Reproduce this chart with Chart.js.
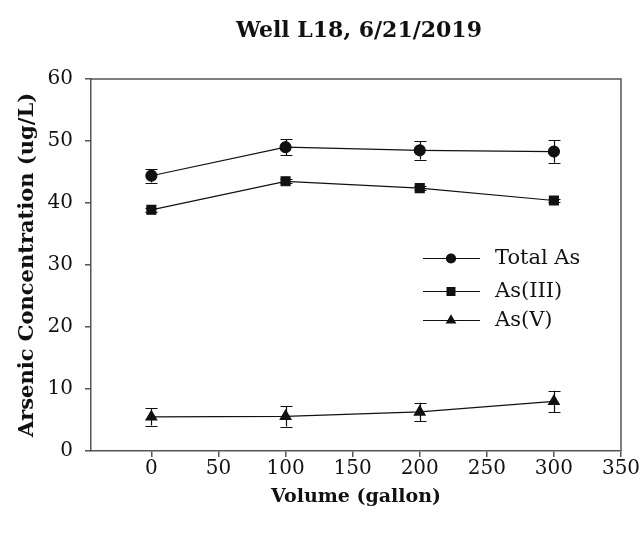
<!DOCTYPE html>
<html>
<head>
<meta charset="utf-8">
<script src="https://cdn.jsdelivr.net/npm/chart.js@4.4.1/dist/chart.umd.min.js"></script>
<style>
  html, body { margin: 0; padding: 0; background: #fff; }
  #wrap { width: 644px; height: 538px; }
</style>
</head>
<body>
<div id="wrap"><canvas id="c" width="644" height="538"></canvas></div>
<script>
// ---- data ----
const volumes = [0, 100, 200, 300];
const totalAs = [44.4, 49.0, 48.5, 48.3];
const totalAsErr = [1.1, 1.3, 1.5, 1.8];
const as3 = [38.9, 43.5, 42.4, 40.4];
const as3Err = [0.3, 0.3, 0.3, 0.3];
const as5 = [5.5, 5.6, 6.3, 8.0];
const as5Err = [1.4, 1.65, 1.5, 1.7];
const xTickValues = [0, 50, 100, 150, 200, 250, 300, 350];
const seriesNames = ['Total As', 'As(III)', 'As(V)'];
const titleText = 'Well L18, 6/21/2019';
const xTitle = 'Volume (gallon)';
const yTitle = 'Arsenic Concentration (ug/L)';

const serif = "'DejaVu Serif', serif";
const axisColor = '#555';
const lineColor = '#111';

function pts(vals) { return volumes.map((v, i) => ({ x: v, y: vals[i] })); }

const styles = ['circle', 'rect', 'triangle'];
const radii = [5.5, 6.3, 6.2];
const legendRadii = [4.5, 5.5, 5];
const errs = [totalAsErr, as3Err, as5Err];

const errorBarPlugin = {
  id: 'errorBars',
  beforeDatasetsDraw(chart) {
    const ctx = chart.ctx;
    const ys = chart.scales.y;
    ctx.save();
    ctx.strokeStyle = lineColor;
    ctx.lineWidth = 1.2;
    chart.data.datasets.forEach((ds, di) => {
      const meta = chart.getDatasetMeta(di);
      const e = errs[di];
      meta.data.forEach((pt, i) => {
        const v = ds.data[i].y;
        const y1 = ys.getPixelForValue(v + e[i]);
        const y2 = ys.getPixelForValue(v - e[i]);
        const x = Math.round(pt.x) + 0.5;
        ctx.beginPath();
        ctx.moveTo(x, y1); ctx.lineTo(x, y2);
        ctx.moveTo(x - 6, Math.round(y1) + 0.5); ctx.lineTo(x + 6, Math.round(y1) + 0.5);
        ctx.moveTo(x - 6, Math.round(y2) + 0.5); ctx.lineTo(x + 6, Math.round(y2) + 0.5);
        ctx.stroke();
      });
    });
    ctx.restore();
  }
};

const framePlugin = {
  id: 'frame',
  afterDraw(chart) {
    const { ctx, chartArea: a } = chart;
    ctx.save();
    ctx.strokeStyle = axisColor;
    ctx.lineWidth = 1.5;
    ctx.beginPath();
    ctx.moveTo(a.left, a.top); ctx.lineTo(a.right, a.top); ctx.lineTo(a.right, a.bottom);
    ctx.stroke();
    // title
    ctx.fillStyle = '#111';
    ctx.font = "bold 22px " + serif;
    ctx.textAlign = 'center';
    ctx.textBaseline = 'middle';
    ctx.fillText(titleText, (a.left + a.right) / 2 + 3, 31);
    // legend
    const lx1 = a.left + 332, lx2 = a.left + 389, mx = a.left + 360;
    const rows = [a.top + 179, a.top + 212, a.top + 241];
    ctx.font = "21px " + serif;
    ctx.textAlign = 'left';
    chart.data.datasets.forEach((ds, di) => {
      const y = rows[di];
      ctx.strokeStyle = lineColor;
      ctx.lineWidth = 1.2;
      ctx.beginPath();
      ctx.moveTo(lx1, y + 0.5); ctx.lineTo(lx2, y + 0.5);
      ctx.stroke();
      Chart.helpers.drawPoint(ctx, { pointStyle: styles[di], radius: legendRadii[di], borderWidth: 1, rotation: 0 }, mx, y + 0.5);
      ctx.fillStyle = '#111';
      ctx.fill();
      ctx.fillText(ds.label, a.left + 404, y + 1);
    });
    ctx.restore();
  }
};

const datasets = [totalAs, as3, as5].map((vals, i) => ({
  label: seriesNames[i],
  data: pts(vals),
  borderColor: lineColor,
  backgroundColor: lineColor,
  borderWidth: 1.2,
  pointStyle: styles[i],
  pointRadius: radii[i],
  pointBackgroundColor: lineColor,
  pointBorderColor: lineColor,
  tension: 0,
  fill: false
}));

new Chart(document.getElementById('c'), {
  type: 'scatter',
  data: { datasets },
  options: {
    responsive: false,
    animation: false,
    showLine: true,
    layout: { padding: { left: 0, right: 23, top: 79, bottom: 0 } },
    plugins: { legend: { display: false }, title: { display: false }, tooltip: { enabled: false } },
    scales: {
      x: {
        type: 'linear', min: -45, max: 350,
        afterBuildTicks(s) { s.ticks = xTickValues.map(v => ({ value: v })); },
        afterFit(s) { s.height = 87; },
        grid: { drawOnChartArea: false, drawTicks: true, tickLength: 6, color: axisColor, lineWidth: 1.5 },
        border: { color: axisColor, width: 1.5 },
        ticks: { color: '#111', font: { family: serif, size: 20 }, padding: 0, maxRotation: 0, autoSkip: false },
        title: { display: true, text: xTitle, color: '#111', font: { family: serif, size: 19, weight: 'bold' }, padding: { top: 0, bottom: 30 } }
      },
      y: {
        type: 'linear', min: 0, max: 60,
        ticks: { stepSize: 10, color: '#111', font: { family: serif, size: 20 }, padding: 12 },
        afterFit(s) { s.width = 91; },
        grid: { drawOnChartArea: false, drawTicks: true, tickLength: 6, color: axisColor, lineWidth: 1.5 },
        border: { color: axisColor, width: 1.5 },
        title: { display: true, text: yTitle, color: '#111', font: { family: serif, size: 21, weight: 'bold' }, padding: { top: 15, bottom: 0 } }
      }
    }
  },
  plugins: [errorBarPlugin, framePlugin]
});
</script>
</body>
</html>
